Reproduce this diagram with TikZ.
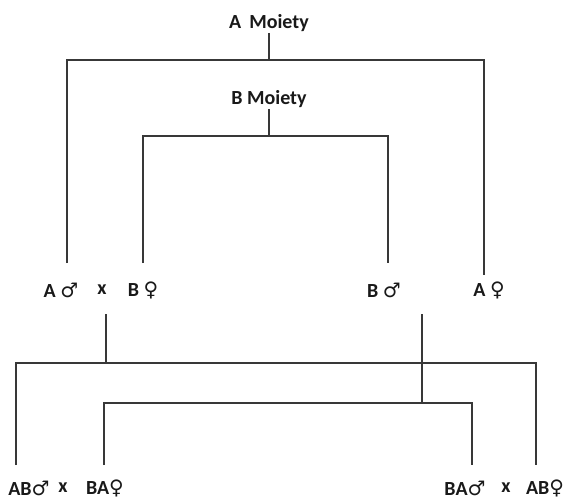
\documentclass[tikz,border=0pt]{standalone}
\usepackage{fontspec}
\setmainfont{Carlito}
\newfontfamily\symfont{DejaVu Sans}
\newcommand{\male}{{\symfont\mdseries ♂}}
\newcommand{\female}{{\symfont\mdseries ♀}}
\begin{document}
\begin{tikzpicture}[x=1pt,y=-1pt,
  lbl/.style={font=\fontsize{20}{22}\selectfont\bfseries, inner sep=1pt, text=black!90},
  link/.style={draw=black!78, line width=1.3pt}]
\useasboundingbox (0,0) rectangle (565,499);

% moiety headings
\node[lbl] (amo) at (269,23) {A\hspace{0.4em}Moiety};
\node[lbl] (bmo) at (269,99) {B Moiety};

% first generation
\node[lbl] (am)  at (61,290)  {A \male};
\node[lbl] (x1)  at (102,290) {x};
\node[lbl] (bf)  at (143,290) {B \female};
\node[lbl] (bm)  at (384,290) {B \male};
\node[lbl] (af)  at (489,290) {A \female};

% second generation
\node[lbl] (abm) at (29,488)  {AB\male};
\node[lbl] (x2)  at (63,488)  {x};
\node[lbl] (baf) at (105,488) {BA\female};
\node[lbl] (bam) at (465,488) {BA\male};
\node[lbl] (x3)  at (506,488) {x};
\node[lbl] (abf) at (545,488) {AB\female};

% junction points
\coordinate (aL) at (67,60);   \coordinate (aR) at (484,60);
\coordinate (bL) at (143,136); \coordinate (bR) at (388,136);
\coordinate (amT) at (67,263); \coordinate (afT) at (484,275);
\coordinate (bfT) at (143,263); \coordinate (bmT) at (388,263);
\coordinate (x1B) at (106,314); \coordinate (bmB) at (422,314);
\coordinate (oL) at (16,363);  \coordinate (oR) at (536,363);
\coordinate (iL) at (104,403); \coordinate (iR) at (472,403);
\coordinate (abmT) at (16,465); \coordinate (abfT) at (536,465);
\coordinate (bafT) at (104,465); \coordinate (bamT) at (472,465);

% A moiety descent
\draw[link] (amo.south) -- (amo.south |- aL);
\draw[link] (amT) -- (aL) -- (aR) -- (afT);
% B moiety descent
\draw[link] (bmo.south) -- (bmo.south |- bL);
\draw[link] (bfT) -- (bL) -- (bR) -- (bmT);
% offspring of A male x B female
\draw[link] (x1B) -- (x1B |- oL);
\draw[link] (abmT) -- (oL) -- (oR) -- (abfT);
% offspring of B male x A female
\draw[link] (bmB) -- (bmB |- iL);
\draw[link] (bafT) -- (iL) -- (iR) -- (bamT);
\end{tikzpicture}
\end{document}
